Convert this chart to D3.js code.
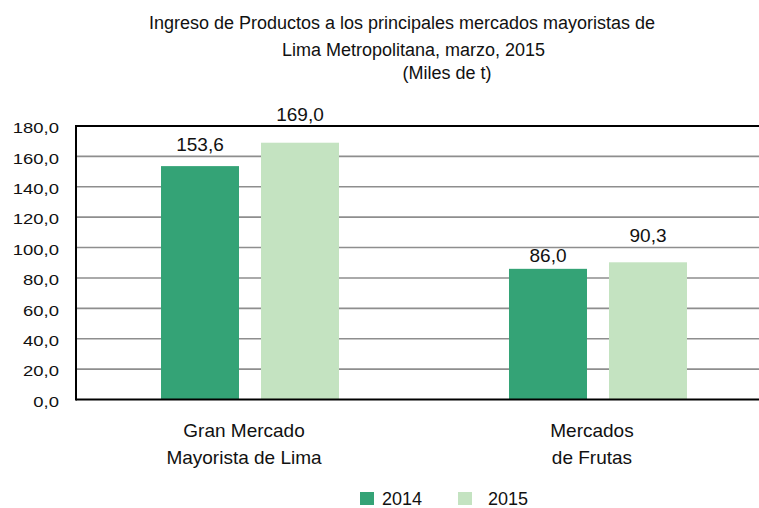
<!DOCTYPE html>
<html><head><meta charset="utf-8">
<script src="https://cdn.jsdelivr.net/npm/d3@7"></script>
<style>
html,body{margin:0;padding:0;background:#fff;}
svg{display:block;font-family:"Liberation Sans",Arial,sans-serif;}
</style></head>
<body>
<svg id="chart" width="759" height="508"></svg>
<script>
const titleLines = ["Ingreso de Productos a los principales mercados mayoristas de", "Lima Metropolitana, marzo, 2015", "(Miles de t)"];
const categories = [["Gran Mercado", "Mayorista de Lima"], ["Mercados", "de Frutas"]];
const seriesNames = ["2014", "2015"];
const values2014 = [153.6, 86.0];
const values2015 = [169.0, 90.3];
const yTicks = [0, 20, 40, 60, 80, 100, 120, 140, 160, 180];
const colors = ["#34a376", "#c4e3c1"];

const svg = d3.select("#chart");
const M = {left: 76, right: 772, top: 126, bottom: 399.5};
const fmt = v => d3.format(".1f")(v).replace(".", ",");
// label gap above bar top, per category then series
const labelGap = [[15, 22], [7, 20]];

const y = d3.scaleLinear().domain([0, 180]).range([M.bottom, M.top]);
const catKeys = categories.map((c, i) => i);
const x0 = d3.scaleBand().domain(catKeys).range([M.left, M.right]).paddingInner(0.4885).paddingOuter(0.2443);
const x1 = d3.scaleBand().domain(seriesNames).range([0, x0.bandwidth()]).paddingInner(0.22).paddingOuter(0);

// title
svg.append("g").selectAll("text").data(titleLines).join("text")
  .attr("x", (d, i) => [402, 413.5, 447][i])
  .attr("y", (d, i) => [29, 55.5, 79][i])
  .attr("text-anchor", "middle")
  .attr("font-size", 18)
  .attr("fill", "#111")
  .text(d => d);

// gridlines
svg.append("g").selectAll("line").data(yTicks.filter(t => t > 0 && t < 180)).join("line")
  .attr("x1", M.left).attr("x2", 759)
  .attr("y1", d => y(d)).attr("y2", d => y(d))
  .attr("stroke", "#8e8e8e").attr("stroke-width", 1.6);

// y tick labels
svg.append("g").selectAll("text").data(yTicks).join("text")
  .attr("text-anchor", "end")
  .attr("font-size", 15)
  .attr("fill", "#111")
  .attr("transform", d => `translate(59,${y(d) + 7.3}) scale(1.23,1)`)
  .text(d => fmt(d));

// bars
const data = catKeys.map(i => ({cat: i, vals: [values2014[i], values2015[i]]}));
const groups = svg.append("g").selectAll("g").data(data).join("g")
  .attr("transform", d => `translate(${x0(d.cat)},0)`);
groups.selectAll("rect").data(d => d.vals.map((v, j) => ({s: seriesNames[j], v, j}))).join("rect")
  .attr("x", d => x1(d.s))
  .attr("width", x1.bandwidth())
  .attr("y", d => y(d.v))
  .attr("height", d => M.bottom - y(d.v))
  .attr("fill", d => colors[d.j]);

// frame
svg.append("line").attr("x1", M.left).attr("x2", 759).attr("y1", M.top).attr("y2", M.top)
  .attr("stroke", "#000").attr("stroke-width", 2);
svg.append("line").attr("x1", M.left).attr("x2", 759).attr("y1", M.bottom).attr("y2", M.bottom)
  .attr("stroke", "#000").attr("stroke-width", 2);
svg.append("line").attr("x1", M.left).attr("x2", M.left).attr("y1", M.top - 1).attr("y2", M.bottom + 1)
  .attr("stroke", "#000").attr("stroke-width", 2);

// value labels
groups.selectAll("text").data(d => d.vals.map((v, j) => ({s: seriesNames[j], v, j, cat: d.cat}))).join("text")
  .attr("x", d => x1(d.s) + x1.bandwidth() / 2)
  .attr("y", d => y(d.v) - labelGap[d.cat][d.j])
  .attr("text-anchor", "middle")
  .attr("font-size", 19)
  .attr("fill", "#111")
  .text(d => fmt(d.v));

// category labels
const catG = svg.append("g").selectAll("text").data(data).join("text")
  .attr("text-anchor", "middle")
  .attr("font-size", 19)
  .attr("fill", "#111");
catG.selectAll("tspan").data(d => categories[d.cat].map(t => ({t, cat: d.cat}))).join("tspan")
  .attr("x", d => x0(d.cat) + x0.bandwidth() / 2 - 6)
  .attr("y", (d, i) => [437, 464][i])
  .text(d => d.t);

// legend
const legX = [360, 458];
const leg = svg.append("g").selectAll("g").data(seriesNames).join("g")
  .attr("transform", (d, i) => `translate(${legX[i]},492)`);
leg.append("rect").attr("width", 14).attr("height", 13).attr("fill", (d, i) => colors[i]);
leg.append("text").attr("x", (d, i) => [22, 30][i]).attr("y", 12.5)
  .attr("font-size", 18).attr("fill", "#111").text(d => d);
</script>
</body></html>
